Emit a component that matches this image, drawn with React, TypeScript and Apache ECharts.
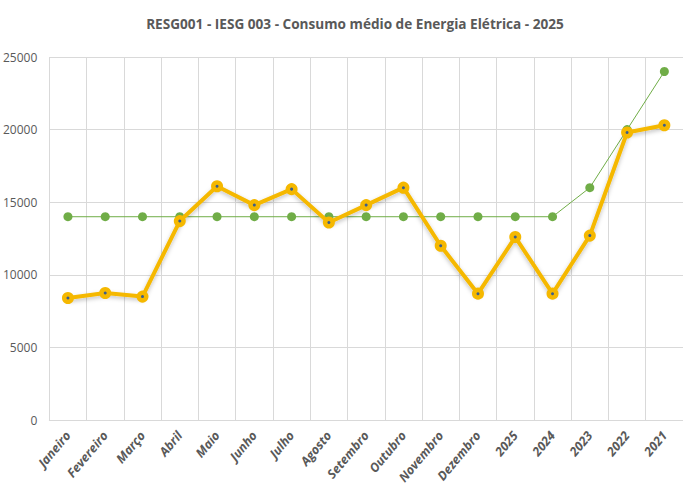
import React, { useEffect, useRef } from "react";
import * as echarts from "echarts";

const categories = [
  "Janeiro", "Fevereiro", "Março", "Abril", "Maio", "Junho", "Julho", "Agosto",
  "Setembro", "Outubro", "Novembro", "Dezembro", "2025", "2024", "2023", "2022", "2021",
];
const consumo = [
  8400, 8750, 8500, 13700, 16100, 14800, 15900, 13600, 14800, 16000, 12000, 8700,
  12600, 8700, 12700, 19800, 20300,
];
const meta = [
  14000, 14000, 14000, 14000, 14000, 14000, 14000, 14000, 14000, 14000, 14000, 14000,
  14000, 14000, 16000, 20000, 24000,
];
const titleText = "RESG001 - IESG 003 - Consumo médio de Energia Elétrica - 2025";

export default function App() {
  const ref = useRef<HTMLDivElement>(null);
  useEffect(() => {
    if (!ref.current) return;
    const chart = echarts.init(ref.current, undefined, { renderer: "svg" });
    chart.setOption({
      animation: false,
      backgroundColor: "#ffffff",
      title: {
        text: titleText,
        left: 350,
        textAlign: "center",
        top: 11,
        textStyle: {
          fontFamily: "'Open Sans', sans-serif",
          fontSize: 13.6,
          fontWeight: "bold",
          color: "#595959",
        },
      },
      grid: { left: 48, top: 57, width: 638, bottom: 77 },
      xAxis: {
        type: "category",
        data: categories,
        boundaryGap: true,
        axisTick: { show: false },
        axisLine: { lineStyle: { color: "#d9d9d9" } },
        splitLine: { show: true, lineStyle: { color: "#d9d9d9" } },
        axisLabel: {
          interval: 0,
          rotate: 50,
          color: "#595959",
          fontStyle: "italic",
          fontWeight: "bold",
          fontSize: 12.5,
          fontFamily: "'Open Sans', sans-serif",
          margin: 13,
        },
      },
      yAxis: {
        type: "value",
        min: 0,
        max: 25000,
        interval: 5000,
        axisLine: { show: false },
        axisTick: { show: false },
        splitLine: { lineStyle: { color: "#d9d9d9" } },
        axisLabel: {
          color: "#595959",
          fontSize: 12,
          fontFamily: "'Open Sans', sans-serif",
          margin: 12,
          formatter: (v: number) => String(v),
        },
      },
      series: [
        {
          name: "Meta",
          type: "line",
          data: meta,
          symbol: "circle",
          symbolSize: 9,
          lineStyle: { color: "#70AD47", width: 1 },
          itemStyle: { color: "#70AD47" },
          z: 2,
        },
        {
          name: "Consumo",
          type: "line",
          data: consumo,
          symbol: "circle",
          symbolSize: 7.5,
          lineStyle: {
            color: "#F5B800",
            width: 4,
            shadowColor: "rgba(0,0,0,0.25)",
            shadowBlur: 4,
            shadowOffsetY: 2,
          },
          itemStyle: { color: "#3B5E8C", borderColor: "#F5B800", borderWidth: 4.5 },
          z: 3,
        },
      ],
    });
    return () => chart.dispose();
  }, []);
  return (
    <div
      ref={ref}
      style={{ position: "fixed", left: 0, top: 0, width: 683, height: 497 }}
    />
  );
}
